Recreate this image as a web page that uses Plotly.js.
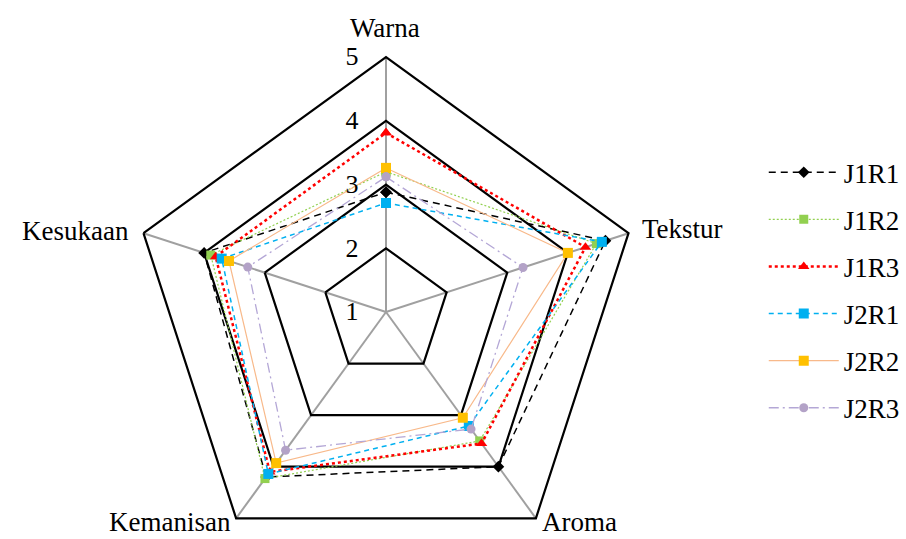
<!DOCTYPE html>
<html>
<head>
<meta charset="utf-8">
<script src="https://cdn.plot.ly/plotly-3.0.1.min.js"></script>
<style>
html,body{margin:0;padding:0;background:#fff;overflow:hidden;width:906px;height:539px;}
#chart{width:906px;height:600px;}
</style>
</head>
<body>
<div id="chart"></div>
<script>
var categories = ["Warna", "Tekstur", "Aroma", "Kemanisan", "Kesukaan"];
var seriesNames = ["J1R1", "J1R2", "J1R3", "J2R1", "J2R2", "J2R3"];
var J1R1 = [2.88, 4.62, 4.00, 4.20, 4.00];
var J1R2 = [3.20, 4.47, 3.50, 4.23, 3.89];
var J1R3 = [3.81, 4.29, 3.55, 4.10, 3.81];
var J2R1 = [2.71, 4.56, 3.21, 4.14, 3.71];
var J2R2 = [3.26, 4.00, 3.05, 3.93, 3.59];
var J2R3 = [3.12, 3.26, 3.27, 3.68, 3.28];
var radialTicks = [1, 2, 3, 4, 5];

var seriesValues = [J1R1, J1R2, J1R3, J2R1, J2R2, J2R3];
var styles = [
  {lc: "#000000", lw: 1.5, dash: "7px,5px", sym: "diamond", mc: "#000000", ms: 9},
  {lc: "#92d050", lw: 1.2, dash: "2px,2px", sym: "square", mc: "#92d050", ms: 9},
  {lc: "#ff0000", lw: 2.5, dash: "dot", sym: "triangle-up", mc: "#ff0000", ms: 10},
  {lc: "#00b0f0", lw: 1.5, dash: "5px,4px", sym: "square", mc: "#00b0f0", ms: 10},
  {lc: "#f8b98a", lw: 1.2, dash: "solid", sym: "square", mc: "#ffc000", ms: 10},
  {lc: "#b4a7d6", lw: 1.3, dash: "10px,4px,2px,4px", sym: "circle", mc: "#b3a2c7", ms: 9}
];

var traces = seriesValues.map(function(v, i) {
  var s = styles[i];
  return {
    type: "scatterpolar",
    mode: "lines+markers",
    name: seriesNames[i],
    legendgroup: seriesNames[i],
    r: v.concat([v[0]]),
    theta: categories.concat([categories[0]]),
    line: {color: s.lc, width: s.lw, dash: s.dash},
    marker: {symbol: s.sym, color: s.mc, size: s.ms},
    cliponaxis: false
  };
});

var serif = "Liberation Serif, Times New Roman, serif";
var H = 600, W = 906;
// category label placement (pixel anchors)
var labelPos = [
  {x: 385, y: 28, xa: "center", ya: "middle"},
  {x: 640, y: 229, xa: "left", ya: "middle"},
  {x: 540, y: 539, xa: "left", ya: "bottom"},
  {x: 233, y: 539, xa: "right", ya: "bottom"},
  {x: 131, y: 231, xa: "right", ya: "middle"}
];
var annotations = categories.map(function(c, i) {
  var p = labelPos[i];
  return {
    text: c, xref: "paper", yref: "paper",
    x: p.x / W, y: 1 - p.y / H,
    xanchor: p.xa, yanchor: p.ya,
    showarrow: false,
    font: {family: serif, size: 27, color: "#000"}
  };
});

var layout = {
  width: W,
  height: H,
  margin: {l: 0, r: 0, t: 0, b: 0},
  paper_bgcolor: "#fff",
  showlegend: true,
  annotations: annotations,
  legend: {
    x: 0.843, y: 0.753, xanchor: "left", yanchor: "top",
    font: {family: serif, size: 27, color: "#000"},
    itemwidth: 70,
    tracegroupgap: 9,
    bgcolor: "rgba(0,0,0,0)"
  },
  polar: {
    domain: {x: [131/W, 641/W], y: [33/H, 543/H]},
    gridshape: "linear",
    bgcolor: "#fff",
    radialaxis: {
      range: [1, 5],
      tickvals: radialTicks,
      ticktext: radialTicks.map(String),
      angle: 90,
      side: "counterclockwise",
      showline: false,
      gridcolor: "#000",
      gridwidth: 2.2,
      ticks: "outside",
      ticklen: 18,
      tickcolor: "rgba(0,0,0,0)",
      tickangle: 90,
      tickfont: {family: serif, size: 26, color: "#000"}
    },
    angularaxis: {
      rotation: 90,
      direction: "clockwise",
      showline: true,
      linecolor: "#000",
      linewidth: 2.2,
      gridcolor: "#a0a0a0",
      gridwidth: 2,
      ticks: "",
      showticklabels: false
    }
  }
};

Plotly.newPlot("chart", traces, layout, {displayModeBar: false, staticPlot: true});
</script>
</body>
</html>
